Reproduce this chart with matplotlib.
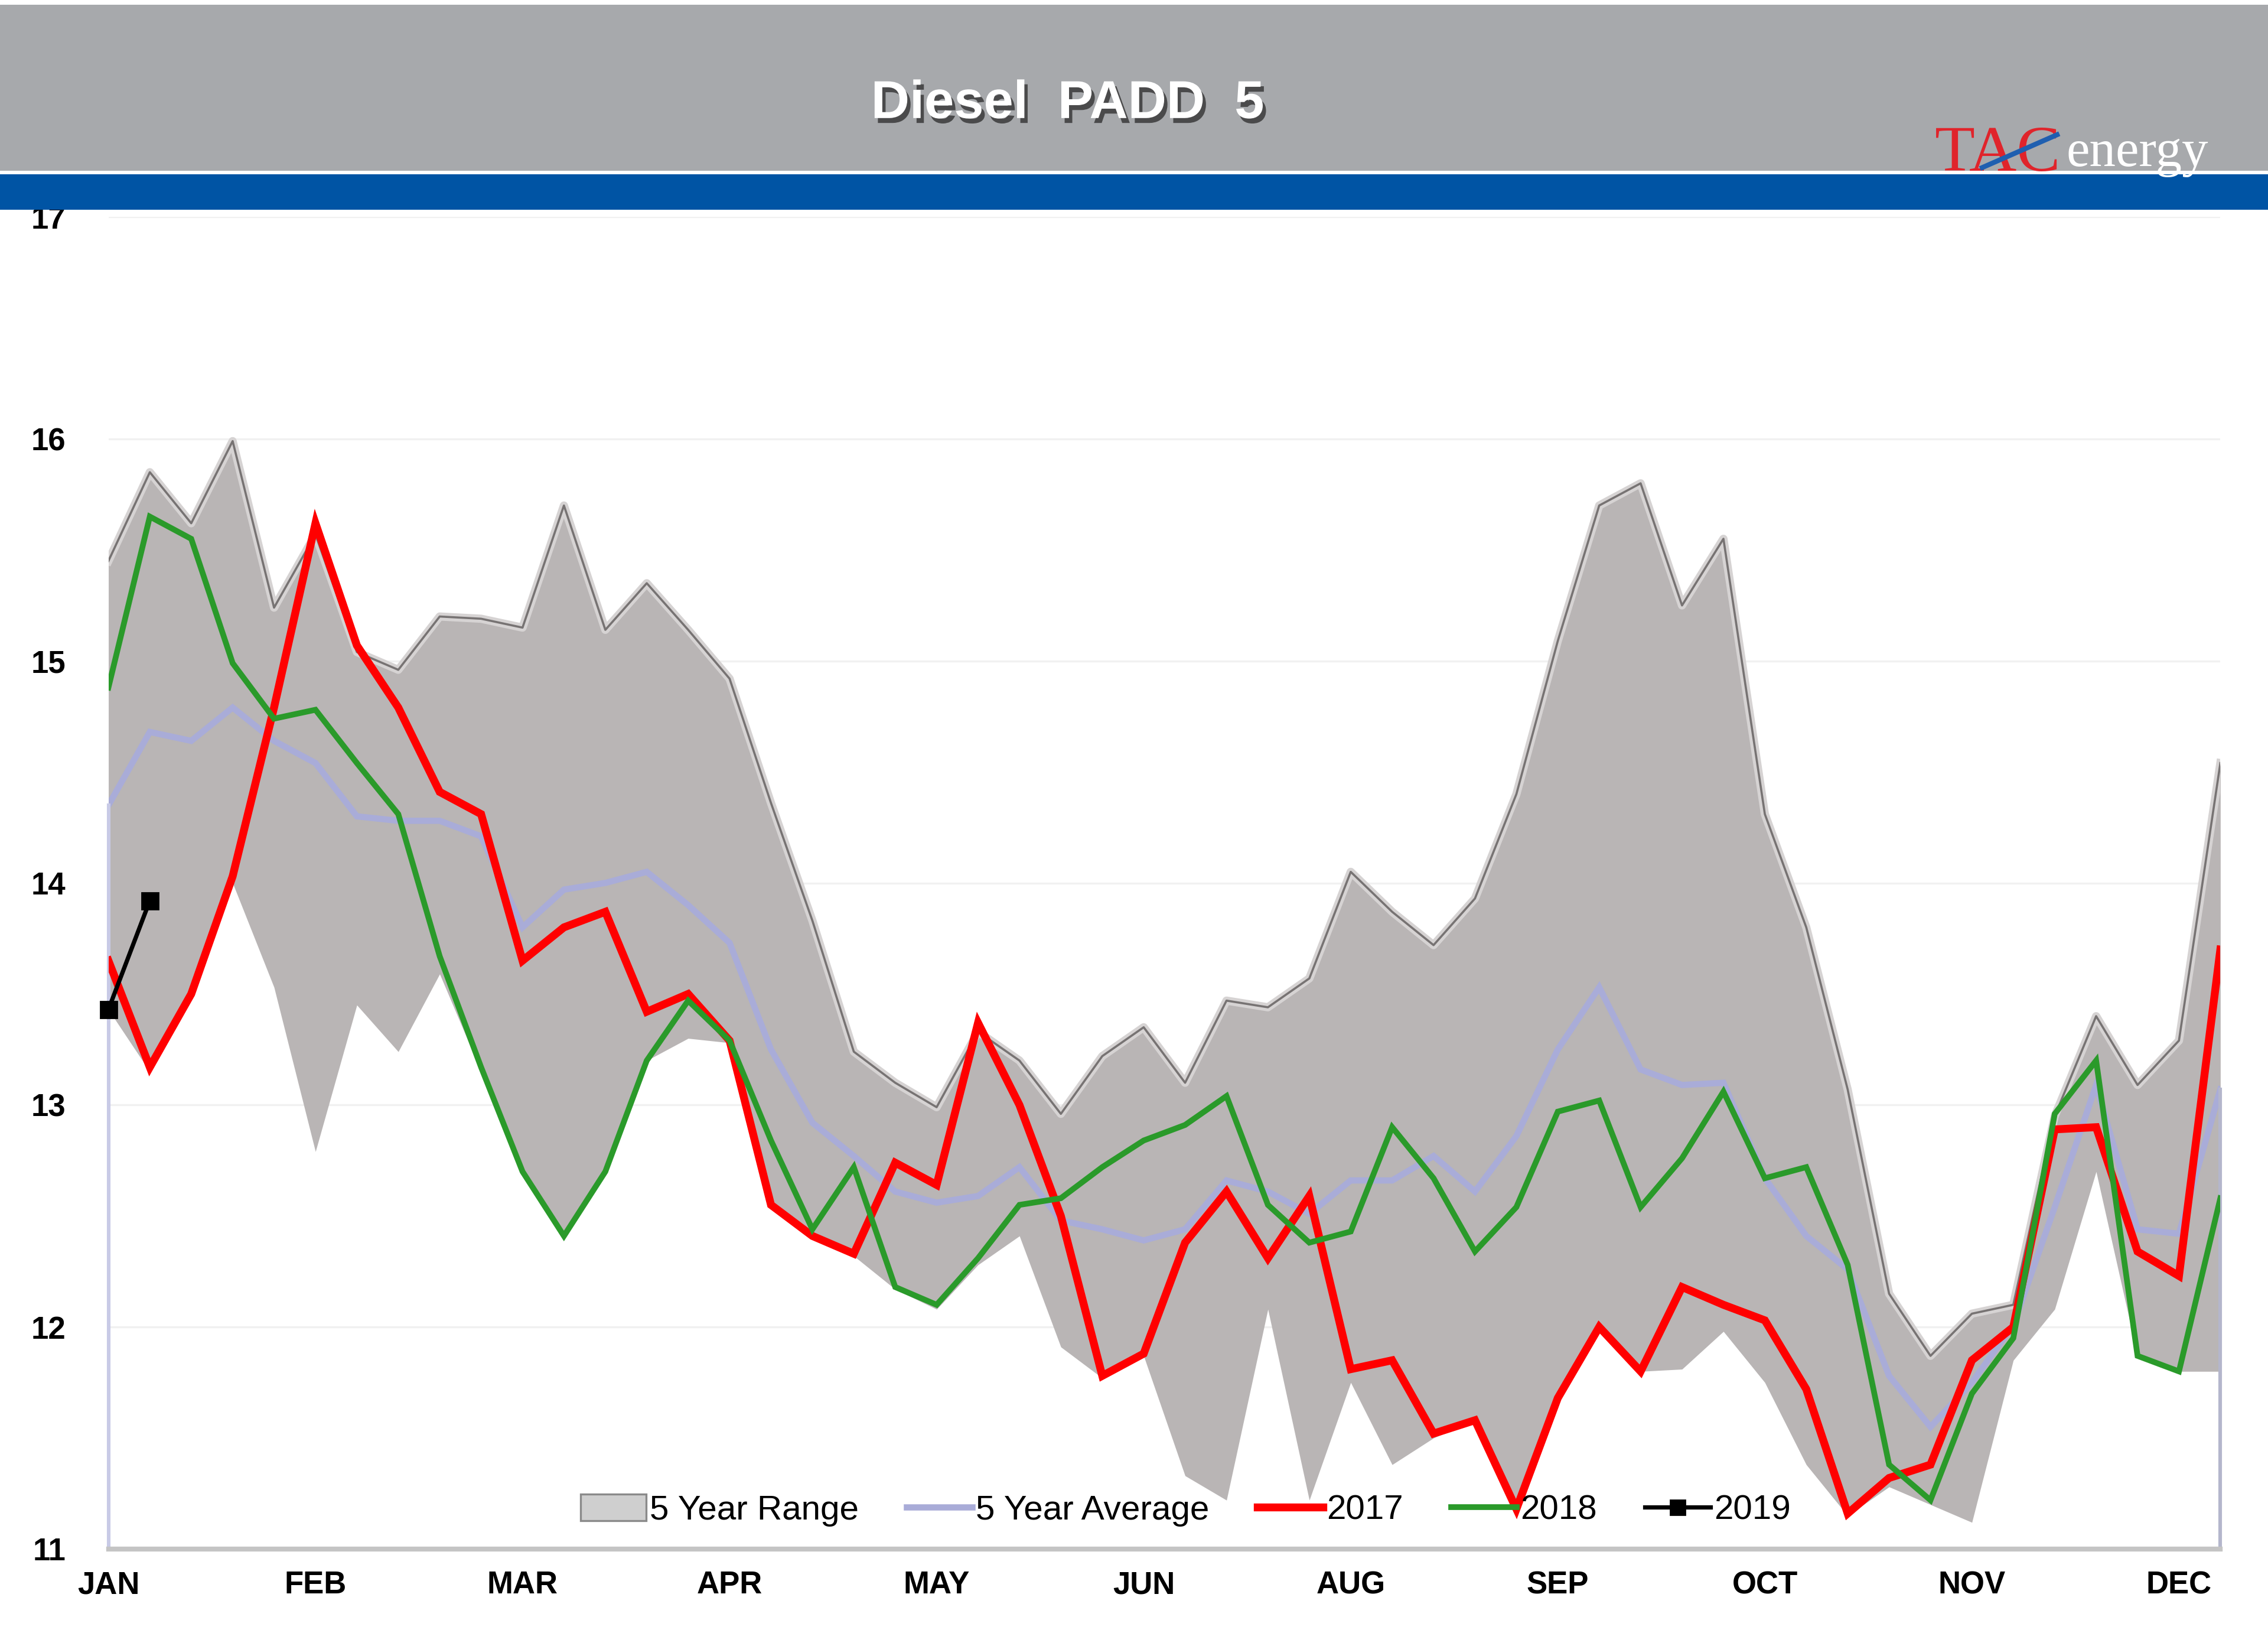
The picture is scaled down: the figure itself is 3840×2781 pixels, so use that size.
import matplotlib
matplotlib.use("Agg")
import matplotlib.pyplot as plt
from matplotlib.patches import Rectangle, Patch
from matplotlib.lines import Line2D
import matplotlib.patheffects as pe
import numpy as np

# weekly values, 52 weeks
weeks = np.arange(52)

range_high = [15.45, 15.85, 15.62, 15.99, 15.24, 15.57, 15.04, 14.96, 15.20, 15.19,
              15.15, 15.70, 15.14, 15.35, 15.14, 14.92, 14.36, 13.83, 13.24, 13.10,
              12.99, 13.33, 13.20, 12.96, 13.22, 13.35, 13.10, 13.47, 13.44, 13.57,
              14.05, 13.87, 13.72, 13.93, 14.40, 15.09, 15.70, 15.80, 15.25, 15.55,
              14.31, 13.80, 13.07, 12.15, 11.87, 12.06, 12.10, 12.95, 13.40, 13.09,
              13.29, 14.54]

range_low = [13.43, 13.15, 13.50, 14.00, 13.53, 12.79, 13.45, 13.24, 13.59, 13.15,
             12.70, 12.40, 12.70, 13.20, 13.30, 13.28, 12.54, 12.40, 12.32, 12.17,
             12.08, 12.28, 12.41, 11.91, 11.77, 11.87, 11.33, 11.22, 12.08, 11.22,
             11.75, 11.38, 11.50, 11.58, 11.15, 11.68, 11.98, 11.80, 11.81, 11.98,
             11.75, 11.38, 11.15, 11.28, 11.20, 11.12, 11.85, 12.08, 12.70, 11.87,
             11.80, 11.80]

avg_5yr = [14.35, 14.68, 14.64, 14.79, 14.64, 14.54, 14.30, 14.28, 14.28, 14.21,
           13.80, 13.97, 14.00, 14.05, 13.90, 13.73, 13.25, 12.92, 12.77, 12.61,
           12.56, 12.59, 12.72, 12.48, 12.44, 12.39, 12.44, 12.66, 12.61, 12.51,
           12.66, 12.66, 12.77, 12.61, 12.86, 13.25, 13.53, 13.16, 13.09, 13.10,
           12.67, 12.41, 12.26, 11.78, 11.55, 11.75, 12.01, 12.54, 13.09, 12.44,
           12.42, 13.07]

y2017 = [13.65, 13.17, 13.50, 14.03, 14.79, 15.62, 15.07, 14.79, 14.41, 14.31,
         13.65, 13.80, 13.87, 13.42, 13.50, 13.29, 12.55, 12.41, 12.33, 12.74,
         12.64, 13.37, 13.00, 12.50, 11.78, 11.88, 12.38, 12.61, 12.31, 12.59,
         11.81, 11.85, 11.52, 11.58, 11.18, 11.68, 12.00, 11.80, 12.18, 12.10,
         12.03, 11.72, 11.16, 11.32, 11.38, 11.85, 12.00, 12.89, 12.90, 12.34,
         12.23, 13.70]

y2018 = [14.88, 15.65, 15.55, 14.99, 14.74, 14.78, 14.54, 14.31, 13.67, 13.17,
         12.70, 12.41, 12.70, 13.20, 13.47, 13.29, 12.84, 12.44, 12.72, 12.18,
         12.10, 12.31, 12.55, 12.58, 12.72, 12.84, 12.91, 13.04, 12.55, 12.38,
         12.43, 12.90, 12.67, 12.34, 12.54, 12.97, 13.02, 12.54, 12.76, 13.06,
         12.67, 12.72, 12.28, 11.38, 11.22, 11.70, 11.95, 12.96, 13.20, 11.87,
         11.80, 12.58]

y2019 = [13.43, 13.92]

month_labels = ["JAN", "FEB", "MAR", "APR", "MAY", "JUN", "AUG", "SEP", "OCT", "NOV", "DEC"]
month_ticks = np.arange(0, 51, 5)

plt.rcParams['font.family'] = ['Liberation Sans', 'DejaVu Sans']

fig = plt.figure(figsize=(19.2, 13.905), dpi=200)
fig.patch.set_facecolor('white')

# header
fig.patches.append(Rectangle((0, 0.896), 1, 0.101, transform=fig.transFigure,
                             facecolor='#a7a9ac', edgecolor='none', zorder=9))
fig.patches.append(Rectangle((0, 0.8725), 1, 0.0215, transform=fig.transFigure,
                             facecolor='#0054a4', edgecolor='none', zorder=10))
fig.text(0.4707, 0.9366, "Diesel  PADD  5", color='white', fontsize=32.5, fontweight='bold',
         ha='center', va='center', zorder=11,
         path_effects=[pe.withSimplePatchShadow(offset=(2, -3), shadow_rgbFace='#333333', alpha=0.8)])
fig.text(0.853, 0.896, "TAC", color='#e0242b', fontsize=40, family='Liberation Serif',
         ha='left', va='baseline', zorder=12)
fig.text(0.911, 0.899, "energy", color='white', fontsize=32, family='Liberation Serif',
         ha='left', va='baseline', zorder=12)
fig.lines.append(Line2D([0.874, 0.907], [0.898, 0.918], transform=fig.transFigure,
                        color='#1f5fb0', lw=3, zorder=13))

ax = fig.add_axes([0.0478, 0.0572, 0.9312, 0.8108])
ax.set_facecolor('white')

ax.fill_between(weeks, range_low, range_high, color='#b9b5b5', linewidth=0, zorder=1)
ax.plot(weeks, range_high, color='#777373', lw=1.3, zorder=1.5,
        path_effects=[pe.Stroke(linewidth=5, foreground='#d6d3d3'), pe.Normal()])
ax.plot(weeks, avg_5yr, color='#a9acd8', lw=3.8, zorder=2, solid_joinstyle='miter')
ax.plot(weeks, y2017, color='#ff0000', lw=4.8, zorder=3, solid_joinstyle='miter')
ax.plot(weeks, y2018, color='#2a9a2a', lw=3.5, zorder=4, solid_joinstyle='miter')
ax.plot(weeks[:len(y2019)], y2019, color='black', lw=2.6, marker='s', markersize=10,
        zorder=5, clip_on=False)

ax.set_xlim(0, 51)
ax.set_ylim(11, 17)
ax.set_yticks(np.arange(11, 18, 1))
ax.set_xticks(month_ticks)
ax.set_xticklabels(month_labels)
ax.tick_params(axis='y', length=0, pad=26, labelsize=19)
ax.tick_params(axis='x', length=0, pad=13, labelsize=19)
for lab in ax.get_xticklabels() + ax.get_yticklabels():
    lab.set_fontweight('bold')

ax.grid(axis='y', color='#f1f1f1', lw=1.2, zorder=0)
ax.set_axisbelow(True)

ax.spines['top'].set_visible(False)
ax.spines['bottom'].set_color('#c4c4c4')
ax.spines['bottom'].set_linewidth(3)
ax.spines['left'].set_color('#c8cae6')
ax.spines['left'].set_linewidth(2.2)
ax.spines['left'].set_bounds(11, avg_5yr[0])
ax.spines['right'].set_color('#b4b6cc')
ax.spines['right'].set_linewidth(2.2)
ax.spines['right'].set_bounds(11, avg_5yr[-1])

handles = [
    Patch(facecolor='#cfcfcf', edgecolor='#8a8a8a', linewidth=1.2),
    Line2D([], [], color='#a9acd8', lw=3.8),
    Line2D([], [], color='#ff0000', lw=4.8),
    Line2D([], [], color='#2a9a2a', lw=3.5),
    Line2D([], [], color='black', lw=2.6, marker='s', markersize=9),
]
labels = ["5 Year Range", "5 Year Average", "2017", "2018", "2019"]
ax.legend(handles, labels, loc='center', bbox_to_anchor=(0.51, 0.029), ncol=5,
          frameon=False, fontsize=21, handlelength=1.9, handletextpad=0.1,
          columnspacing=1.4, handleheight=0.8)

fig.savefig("out.png", dpi=200, facecolor='white')
